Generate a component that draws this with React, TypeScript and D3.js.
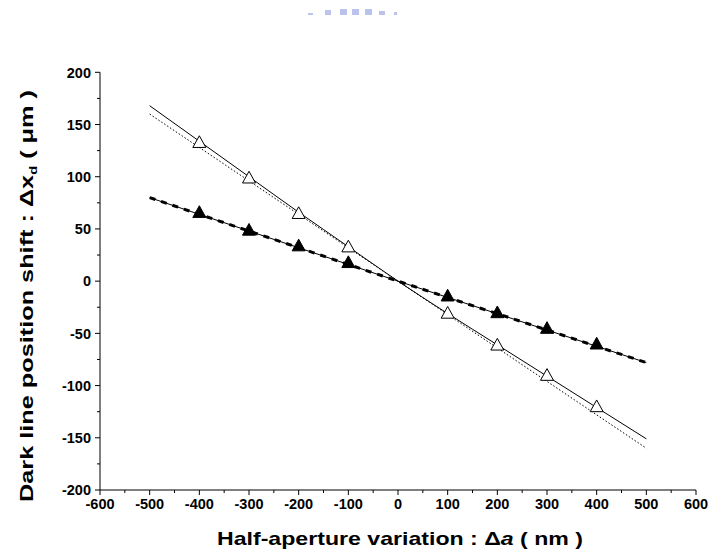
import React from "react";
import * as d3 from "d3";

const xTicks = [-600, -500, -400, -300, -200, -100, 0, 100, 200, 300, 400, 500, 600];
const yTicks = [-200, -150, -100, -50, 0, 50, 100, 150, 200];

const openX = [-400, -300, -200, -100, 100, 200, 300, 400];
const openY = [133, 99, 65, 33, -30.5, -61, -90, -120];

const filledX = [-400, -300, -200, -100, 100, 200, 300, 400];
const filledY = [66, 49, 34, 18, -14, -30, -45, -60];

const fitOpenX = [-500, -400, -300, -200, -100, 0, 100, 200, 300, 400, 500];
const fitOpenY = [168, 134, 100, 66, 33, 0, -31, -61, -91, -121, -151];

const linOpenX = [-500, 500];
const linOpenY = [160, -160];

const fitFilledX = [-500, 0, 500];
const fitFilledY = [80, 0, -78];

const W = 712;
const H = 554;

export default function App() {
  const x = d3.scaleLinear().domain([-600, 600]).range([100, 696]);
  const y = d3.scaleLinear().domain([-200, 200]).range([490, 72.3]);
  const line = d3
    .line<[number, number]>()
    .x((d) => x(d[0]))
    .y((d) => y(d[1]));
  const curve = d3
    .line<[number, number]>()
    .x((d) => x(d[0]))
    .y((d) => y(d[1]))
    .curve(d3.curveMonotoneX);

  const zip = (a: number[], b: number[]) => a.map((v, i) => [v, b[i]] as [number, number]);
  const tri = (cx: number, cy: number) => {
    const s = 6.5;
    return `M${cx},${cy - s}L${cx + s},${cy + s * 0.8}L${cx - s},${cy + s * 0.8}Z`;
  };

  const xMinor = d3.range(-550, 600, 100);
  const yMinor = d3.range(-175, 200, 50);
  const font = "'Liberation Sans', Arial, sans-serif";

  return (
    <svg width={W} height={H} style={{ position: "absolute", left: 0, top: 0 }} fontFamily={font}>
      <rect width={W} height={H} fill="#fff" />
      {/* faint watermark */}
      <g fill="#8f9be0" opacity={0.6}>
        <rect x={308} y={13} width={5} height={2} />
        <rect x={325} y={10} width={6} height={5} />
        <rect x={340} y={9} width={7} height={6} />
        <rect x={352} y={9} width={7} height={6} />
        <rect x={365} y={9} width={7} height={6} />
        <rect x={379} y={11} width={6} height={4} />
        <rect x={394} y={12} width={3} height={3} />
      </g>
      {/* fit lines */}
      <path d={curve(zip(fitOpenX, fitOpenY)) || ""} fill="none" stroke="#000" strokeWidth={1} />
      <path d={line(zip(linOpenX, linOpenY)) || ""} fill="none" stroke="#000" strokeWidth={1} strokeDasharray="1.5,2" />
      <path d={line(zip(fitFilledX, fitFilledY)) || ""} fill="none" stroke="#000" strokeWidth={1} />
      <path d={line(zip(fitFilledX, fitFilledY)) || ""} fill="none" stroke="#000" strokeWidth={3} strokeDasharray="6,6" />
      {/* markers */}
      {openX.map((v, i) => (
        <path key={"o" + i} d={tri(x(v), y(openY[i]))} fill="#fff" stroke="#000" strokeWidth={1} />
      ))}
      {filledX.map((v, i) => (
        <path key={"f" + i} d={tri(x(v), y(filledY[i]))} fill="#000" stroke="#000" strokeWidth={1} />
      ))}
      {/* axes */}
      <line x1={100} x2={100} y1={y(200)} y2={y(-200)} stroke="#000" strokeWidth={1} />
      <line x1={100} x2={x(600)} y1={490} y2={490} stroke="#000" strokeWidth={1} />
      {yTicks.map((t) => (
        <g key={"yt" + t}>
          <line x1={95} x2={100} y1={y(t)} y2={y(t)} stroke="#000" />
          <text x={91} y={y(t)} dy="0.36em" textAnchor="end" fontSize={14.5} fontWeight="bold">
            {t}
          </text>
        </g>
      ))}
      {yMinor.map((t) => (
        <line key={"ym" + t} x1={97} x2={100} y1={y(t)} y2={y(t)} stroke="#000" />
      ))}
      {xTicks.map((t) => (
        <g key={"xt" + t}>
          <line x1={x(t)} x2={x(t)} y1={490} y2={495} stroke="#000" />
          <text x={x(t)} y={509} textAnchor="middle" fontSize={14.5} fontWeight="bold">
            {t}
          </text>
        </g>
      ))}
      {xMinor.map((t) => (
        <line key={"xm" + t} x1={x(t)} x2={x(t)} y1={490} y2={493} stroke="#000" />
      ))}
      {/* titles */}
      <text x={217} y={545} fontSize={19} fontWeight="bold" textLength={366} lengthAdjust="spacingAndGlyphs">
        Half-aperture variation : Δ<tspan fontStyle="italic">a</tspan> ( nm )
      </text>
      <text transform="translate(33,502) rotate(-90)" fontSize={19} fontWeight="bold" textLength={412} lengthAdjust="spacingAndGlyphs">
        Dark line position shift : Δx
        <tspan fontSize={11} dy={4}>d</tspan>
        <tspan dy={-4}> ( μm )</tspan>
      </text>
    </svg>
  );
}
